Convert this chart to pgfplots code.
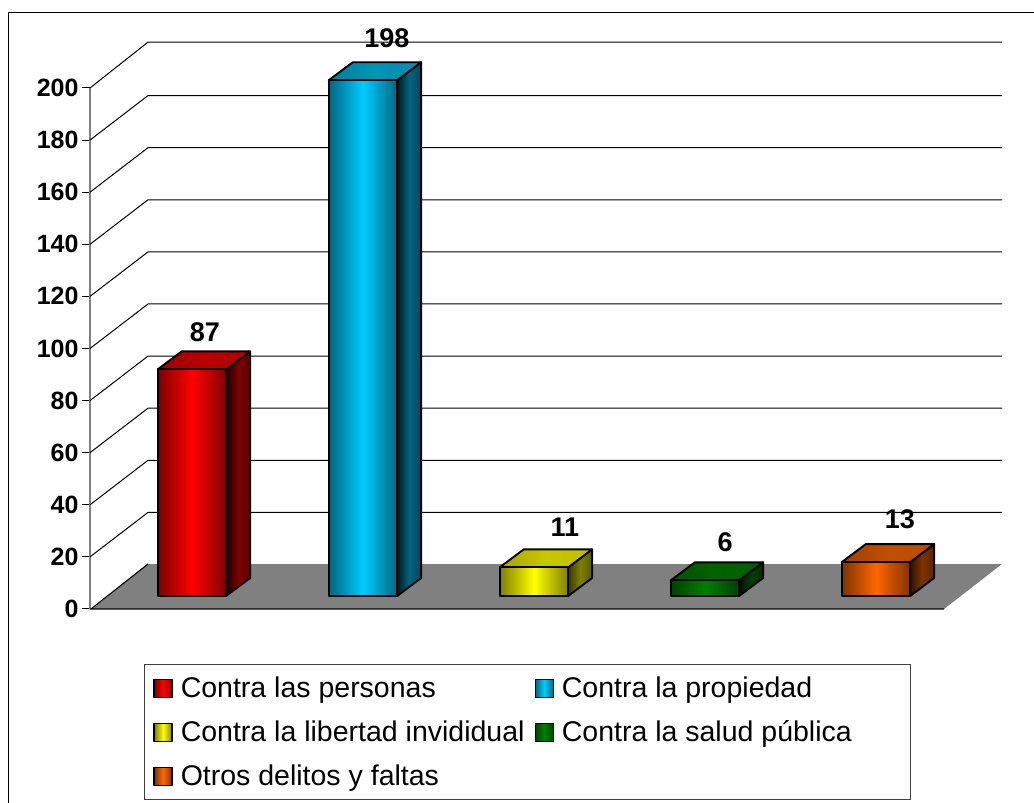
\documentclass[border=0pt]{standalone}
\usepackage{pgfplots}
\pgfplotsset{compat=1.18}
\usepackage{fontspec}
\setmainfont{Liberation Sans}
\definecolor{gfloor}{HTML}{808080}
\definecolor{redE}{HTML}{7F0000}\definecolor{redC}{HTML}{FF0000}\definecolor{redT}{HTML}{B80000}\definecolor{redS}{HTML}{200000}\definecolor{redM}{HTML}{7F0000}
\definecolor{bluE}{HTML}{006680}\definecolor{bluC}{HTML}{00CCFF}\definecolor{bluT}{HTML}{0094B8}\definecolor{bluS}{HTML}{001A20}\definecolor{bluM}{HTML}{006680}
\definecolor{yelE}{HTML}{7F7F00}\definecolor{yelC}{HTML}{FFFF00}\definecolor{yelT}{HTML}{C8C800}\definecolor{yelS}{HTML}{3A3A00}\definecolor{yelM}{HTML}{7F7F00}
\definecolor{griE}{HTML}{004000}\definecolor{griC}{HTML}{008000}\definecolor{griT}{HTML}{006400}\definecolor{griS}{HTML}{001000}\definecolor{griM}{HTML}{004000}
\definecolor{oraE}{HTML}{7F3300}\definecolor{oraC}{HTML}{FF6600}\definecolor{oraT}{HTML}{C05000}\definecolor{oraS}{HTML}{301300}\definecolor{oraM}{HTML}{7F3300}
\tikzset{
  front/.style={draw=black,line width=1.9pt,line join=round,left color=#1E,right color=#1E,middle color=#1C},
  topf/.style={draw=black,line width=1.9pt,line join=round,left color=#1T!50!#1E,right color=#1T!85!#1E,middle color=#1T},
  sidef/.style={draw=black,line width=1.9pt,line join=round,left color=#1S,right color=#1M!70!black,middle color=#1M},
}
\pgfplotsset{
  common/.style={
    at={(90pt,194pt)},anchor=south west,scale only axis,
    width=912pt,height=521pt,clip=false,
  },
}
\begin{document}
\begin{tikzpicture}[x=1pt,y=1pt]
\useasboundingbox (0,0) rectangle (1034,803);
% outer frame
\draw[black,line width=1.1pt] (8.5,0) -- (8.5,790.5) -- (1034,790.5);
% wall and floor: x is measured in pixels from the value axis
\begin{axis}[common,
  xmin=0,xmax=912,ymin=0,ymax=200,
  axis x line=none,axis y line=left,
  axis line style={draw=gfloor,line width=1.4pt,-},
  ytick={0,20,...,200},
  tick style={draw=black,line width=1pt},
  major tick length=8pt,
  tick align=outside,
  /pgf/number format/assume math mode=true,
  yticklabel style={font=\bfseries\fontsize{25}{25}\selectfont,text=black,xshift=0pt},
]
\addplot[fill=gfloor,draw=none] coordinates {(2,0)(58,17.27)(912,17.27)(854,0)} -- cycle;
\addplot[black,line width=1.1pt] coordinates {(58,17.27)(1,0)(854,0)};
\addplot[black,line width=1pt] coordinates {(0,20)(58,37.08)(912,37.08)};
\addplot[black,line width=1pt] coordinates {(0,40)(58,57.08)(912,57.08)};
\addplot[black,line width=1pt] coordinates {(0,60)(58,77.08)(912,77.08)};
\addplot[black,line width=1pt] coordinates {(0,80)(58,97.08)(912,97.08)};
\addplot[black,line width=1pt] coordinates {(0,100)(58,117.08)(912,117.08)};
\addplot[black,line width=1pt] coordinates {(0,120)(58,137.08)(912,137.08)};
\addplot[black,line width=1pt] coordinates {(0,140)(58,157.08)(912,157.08)};
\addplot[black,line width=1pt] coordinates {(0,160)(58,177.08)(912,177.08)};
\addplot[black,line width=1pt] coordinates {(0,180)(58,197.08)(912,197.08)};
\addplot[black,line width=1pt] coordinates {(0,200)(58,217.6)(912,217.6)};
\end{axis}
% bars: y is the value, measured from the bars' own base
\begin{axis}[common,hide axis,
  xmin=-0.5965,xmax=4.7368,ymin=-5,ymax=195,
  legend style={at={(0.0592,-0.1056)},anchor=north west,
    draw=black!75,line width=1pt,fill=white,
    inner xsep=9pt,inner ysep=12pt,
    font=\fontsize{28.5}{30}\selectfont,
    row sep=22pt,
    nodes={inner xsep=2pt,inner ysep=0pt,anchor=base west},
    /tikz/every odd column/.style={column sep=6pt},
    /tikz/every even column/.style={column sep=8pt},
  },
  legend columns=2,
  legend cell align=left,
  legend image code/.code={\draw[#1,line width=1.3pt] (0pt,0pt) rectangle (18pt,18pt);},
]
% red
\addplot[forget plot,sidef=red] coordinates {(.2,0)(.34,6.9)(.34,93.9)(.2,87)} -- cycle;
\addplot[forget plot,topf=red] coordinates {(-.2,87)(.2,87)(.34,93.9)(-.06,93.9)} -- cycle;
\addplot[front=red] coordinates {(-.2,0)(.2,0)(.2,87)(-.2,87)} -- cycle;
\addlegendentry{Contra las personas}
% blue
\addplot[forget plot,sidef=blu] coordinates {(1.2,0)(1.34,6.9)(1.34,204.9)(1.2,198)} -- cycle;
\addplot[forget plot,topf=blu] coordinates {(.8,198)(1.2,198)(1.34,204.9)(.94,204.9)} -- cycle;
\addplot[front=blu] coordinates {(.8,0)(1.2,0)(1.2,198)(.8,198)} -- cycle;
\addlegendentry{Contra la propiedad}
% yellow
\addplot[forget plot,sidef=yel] coordinates {(2.2,0)(2.34,6.9)(2.34,17.9)(2.2,11)} -- cycle;
\addplot[forget plot,topf=yel] coordinates {(1.8,11)(2.2,11)(2.34,17.9)(1.94,17.9)} -- cycle;
\addplot[front=yel] coordinates {(1.8,0)(2.2,0)(2.2,11)(1.8,11)} -- cycle;
\addlegendentry{Contra la libertad invididual}
% green
\addplot[forget plot,sidef=gri] coordinates {(3.2,0)(3.34,6.9)(3.34,12.9)(3.2,6)} -- cycle;
\addplot[forget plot,topf=gri] coordinates {(2.8,6)(3.2,6)(3.34,12.9)(2.94,12.9)} -- cycle;
\addplot[front=gri] coordinates {(2.8,0)(3.2,0)(3.2,6)(2.8,6)} -- cycle;
\addlegendentry{Contra la salud pública\hspace*{48pt}}
% orange
\addplot[forget plot,sidef=ora] coordinates {(4.2,0)(4.34,6.9)(4.34,19.9)(4.2,13)} -- cycle;
\addplot[forget plot,topf=ora] coordinates {(3.8,13)(4.2,13)(4.34,19.9)(3.94,19.9)} -- cycle;
\addplot[front=ora] coordinates {(3.8,0)(4.2,0)(4.2,13)(3.8,13)} -- cycle;
\addlegendentry{Otros delitos y faltas}
% value labels
\addplot[forget plot,draw=none,mark=none,nodes near coords,point meta=explicit symbolic,
  every node near coord/.append style={anchor=center,inner sep=0pt,font=\bfseries\fontsize{27}{27}\selectfont,text=black}]
  coordinates {(.076,101.3)[87] (1.14,214.2)[198] (2.181,26.5)[11] (3.117,20.7)[6] (4.14,29.6)[13]};
\end{axis}
\end{tikzpicture}
\end{document}
